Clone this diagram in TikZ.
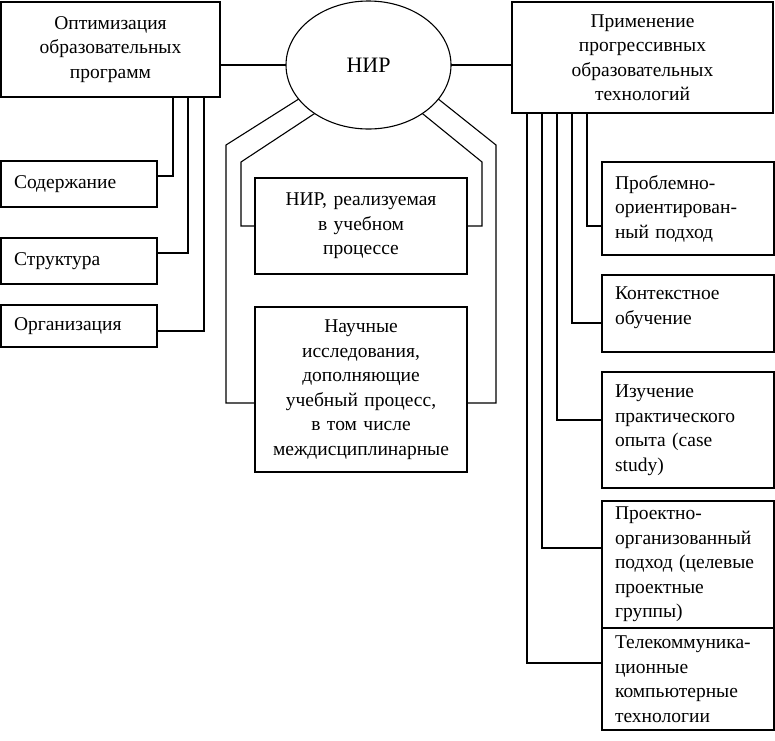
\documentclass[tikz,border=0pt]{standalone}
\usepackage{fontspec}
\setmainfont{Liberation Serif}
\usetikzlibrary{shapes.geometric}
\begin{document}
\begin{tikzpicture}[x=1pt,y=-1pt,line width=1.1pt,
  box/.style={draw,rectangle,inner sep=0pt,outer sep=0pt,font=\fontsize{19.5}{24.5}\selectfont},
  cbox/.style={box,align=center},
  lbox/.style={box,align=left},
  oval/.style={draw,ellipse,inner sep=0pt,outer sep=0pt,font=\fontsize{22}{26}\selectfont}]
\useasboundingbox (0,0) rectangle (775,740);
% top row
\node[cbox,minimum width=219pt,minimum height=95pt,text width=219pt] (opt) at (110.5,49.5)
  {Оптимизация\\образовательных\\программ};
\node[oval,minimum width=165pt,minimum height=128pt] (nir) at (368.5,65) {НИР};
\node[cbox,minimum width=261pt,minimum height=111pt,text width=261pt] (prim) at (642.5,57.5)
  {Применение\\прогрессивных\\образовательных\\технологий};
% left column
\node[lbox,minimum width=156pt,minimum height=46pt,text width=130pt] (sod) at (79,184) {Содержание};
\node[lbox,minimum width=156pt,minimum height=46pt,text width=130pt] (str) at (79,261) {Структура};
\node[lbox,minimum width=156pt,minimum height=42pt,text width=130pt] (org) at (79,326) {Организация};
% centre column
\node[cbox,minimum width=212pt,minimum height=96pt,text width=212pt] (c1) at (361,226)
  {НИР, реализуемая\\в учебном\\процессе};
\node[cbox,minimum width=212pt,minimum height=165pt,text width=212pt] (c2) at (361,389.5)
  {Научные\\исследования,\\дополняющие\\учебный процесс,\\в том числе\\междисциплинарные};
% right column
\node[lbox,minimum width=172pt,minimum height=93pt,text width=146pt] (r1) at (688,208.5)
  {Проблемно-\\ориентирован-\\ный подход};
\node[lbox,minimum width=172pt,minimum height=77pt,text width=146pt] (r2) at (688,313.5)
  {Контекстное\\обучение\\[-9pt]\mbox{}};
\node[lbox,minimum width=172pt,minimum height=116pt,text width=146pt] (r3) at (688,430)
  {Изучение\\практического\\опыта (case\\study)};
\node[lbox,minimum width=172pt,minimum height=127pt,text width=146pt] (r4) at (688,564.5)
  {Проектно-\\организованный\\подход (целевые\\проектные\\группы)};
\node[lbox,minimum width=172pt,minimum height=102pt,text width=146pt] (r5) at (688,679)
  {Телекоммуника-\\ционные\\компьютерные\\технологии};
% top connectors
\draw (opt.east |- nir.west) -- (nir.west);
\draw (nir.east) -- (prim.west |- nir.east);
% left connectors
\draw (opt.south -| 173,0) |- (sod.east |- 0,176);
\draw (opt.south -| 188,0) |- (str.east |- 0,253);
\draw (opt.south -| 204,0) |- (org.east |- 0,331);
% centre connectors
\coordinate (lo) at (226,145);
\coordinate (li) at (241,162);
\coordinate (ro) at (496,145);
\coordinate (ri) at (482,162);
\draw (nir.206) -- (lo) |- (c2.west |- 0,403);
\draw (nir.222) -- (li) |- (c1.west |- 0,226);
\draw (nir.334) -- (ro) |- (c2.east |- 0,403);
\draw (nir.318) -- (ri) |- (c1.east |- 0,226);
% right connectors
\draw (prim.south -| 587,0) |- (r1.west |- 0,226);
\draw (prim.south -| 572,0) |- (r2.west |- 0,323);
\draw (prim.south -| 557,0) |- (r3.west |- 0,420);
\draw (prim.south -| 542,0) |- (r4.west |- 0,548);
\draw (prim.south -| 527,0) |- (r5.west |- 0,663);
\end{tikzpicture}
\end{document}
